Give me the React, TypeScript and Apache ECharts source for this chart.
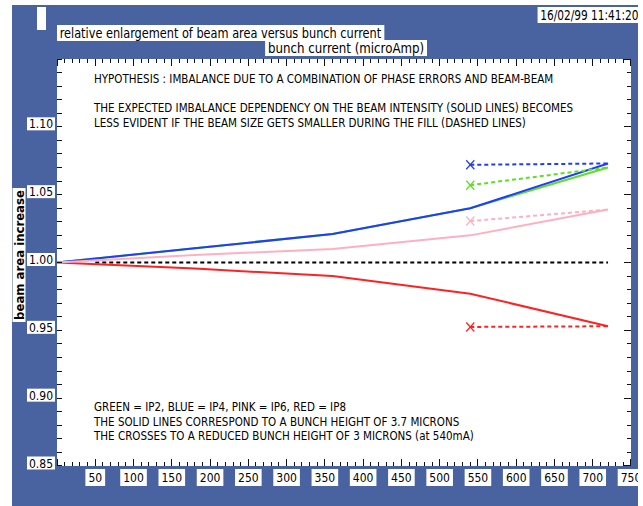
import React, { useEffect, useRef } from "react";
import * as echarts from "echarts";

// bunch current (microAmp) at which the beam area was evaluated
const currentPoints = [0, 180, 360, 540, 720];
// relative beam area increase, bunch height 3.7 microns
const ip2Solid = [1.0, 1.0105, 1.021, 1.04, 1.07];
const ip4Solid = [1.0, 1.0105, 1.021, 1.04, 1.073];
const ip6Solid = [1.0, 1.0055, 1.01, 1.02, 1.039];
const ip8Solid = [1.0, 0.9955, 0.99, 0.977, 0.953];
// reduced bunch height of 3 microns from 540mA onwards
const reducedPoints = [540, 720];
const ip2Reduced = [1.057, 1.07];
const ip4Reduced = [1.072, 1.073];
const ip6Reduced = [1.0305, 1.039];
const ip8Reduced = [0.9525, 0.953];
// unit reference
const referencePoints = [50, 720];
const referenceValues = [1.0, 1.0];

// axis ranges
const X_MIN = 0;
const X_MAX = 750;
const X_STEP = 50;
const Y_MIN = 0.85;
const Y_MAX = 1.15;
const Y_STEP = 0.05;

const FONT = '"DejaVu Sans Condensed", "Liberation Sans", sans-serif';
const BG = "#4863a0";
const COLORS = { ip2: "#5fe022", ip4: "#1f3cff", ip6: "#ffb0c0", ip8: "#ff2222" };
const CROSS = "path://M0,1L1,0L5,4L9,0L10,1L6,5L10,9L9,10L5,6L1,10L0,9L4,5Z";

// plot rectangle inside the chart container
const PLOT = { left: 45, top: 54, width: 574, height: 407 };

const zip = (xs: number[], ys: number[]) => xs.map((x, i) => [x, ys[i]]);

function solid(name: string, values: number[], color: string, z: number) {
  return {
    name,
    type: "line",
    data: zip(currentPoints, values),
    showSymbol: false,
    lineStyle: { color, width: 2 },
    z,
  };
}

function reduced(name: string, values: number[], color: string, z: number) {
  const pts = zip(reducedPoints, values);
  return {
    name,
    type: "line",
    data: [
      { value: pts[0], symbol: CROSS, symbolSize: [9, 10] },
      { value: pts[1], symbol: "none" },
    ],
    showSymbol: true,
    itemStyle: { color },
    lineStyle: { color, width: 2, type: [4, 3] },
    z,
  };
}

const labelFont = { color: "#000", fontFamily: FONT, fontSize: 12 };

function xAxis(position: string, labels: boolean) {
  return {
    type: "value",
    position,
    min: X_MIN,
    max: X_MAX,
    interval: X_STEP,
    axisLine: { show: false },
    axisTick: { show: false },
    splitLine: { show: false },
    axisLabel: labels
      ? {
          ...labelFont,
          backgroundColor: "#fff",
          showMinLabel: false,
          padding: [3, 3, 2, 3],
          margin: 3,
        }
      : { show: false },
  };
}

function yAxis(position: string, labels: boolean) {
  return {
    type: "value",
    position,
    min: Y_MIN,
    max: Y_MAX,
    interval: Y_STEP,
    axisLine: { show: false },
    axisTick: { show: false },
    splitLine: { show: false },
    axisLabel: labels
      ? {
          showMaxLabel: false,
          formatter: (v: number) => `{v|${v.toFixed(2)}}`,
          rich: {
            v: { ...labelFont, backgroundColor: "#fff", padding: [1, 2, 0, 2], lineHeight: 12 },
          },
          verticalAlign: "middle",
          padding: [0, 0, 6, 0],
          margin: 2,
        }
      : { show: false },
  };
}

function note(text: string, x: number, y: number, sx: number) {
  return {
    type: "text",
    x,
    y,
    scaleX: sx,
    z: 100,
    style: {
      text,
      fontFamily: FONT,
      fontSize: 12,
      lineHeight: 14.5,
      fill: "#000",
      verticalAlign: "top",
    },
  };
}

function boxed(text: string, x: number, y: number, sx: number, align: string) {
  return {
    type: "text",
    x,
    y,
    scaleX: sx,
    z: 100,
    style: {
      text,
      fontFamily: FONT,
      fontSize: 14,
      fill: "#000",
      backgroundColor: "#fff",
      padding: [1, 3, 1, 3],
      align,
      verticalAlign: "top",
    },
  };
}

const baseGraphic = [
  { type: "rect", shape: { x: 25, y: 2, width: 9, height: 23 }, style: { fill: "#fff" } },
  boxed("relative enlargement of beam area versus bunch current", 45, 20, 0.9, "left"),
  boxed("bunch current (microAmp)", 415, 35, 0.94, "right"),
  boxed("16/02/99 11:41:20", 629, 2, 0.84, "right"),
  {
    type: "text",
    x: 7,
    y: 250,
    rotation: Math.PI / 2,
    style: {
      text: "beam area increase",
      fontFamily: FONT,
      fontSize: 13,
      fontWeight: "bold",
      fill: "#000",
      backgroundColor: "#fff",
      padding: [0, 2, 0, 2],
      align: "center",
      verticalAlign: "middle",
    },
  },
  note("HYPOTHESIS : IMBALANCE DUE TO A COMBINATION OF PHASE ERRORS AND BEAM-BEAM", 82, 67, 0.958),
  note(
    "THE EXPECTED IMBALANCE DEPENDENCY ON THE BEAM INTENSITY (SOLID LINES) BECOMES\nLESS EVIDENT IF THE BEAM SIZE GETS SMALLER DURING THE FILL (DASHED LINES)",
    82,
    96,
    0.958
  ),
  note(
    "GREEN = IP2, BLUE = IP4, PINK = IP6, RED = IP8\nTHE SOLID LINES CORRESPOND TO A BUNCH HEIGHT OF 3.7 MICRONS\nTHE CROSSES TO A REDUCED BUNCH HEIGHT OF 3 MICRONS (at 540mA)",
    82,
    395,
    0.958
  ),
];

const option = {
  animation: false,
  backgroundColor: BG,
  grid: {
    ...PLOT,
    show: true,
    backgroundColor: "#fff",
    borderWidth: 0,
    outerBoundsMode: "none",
    containLabel: false,
  },
  xAxis: [xAxis("bottom", true), xAxis("top", false)],
  yAxis: [yAxis("left", true), yAxis("right", false)],
  series: [
    {
      name: "reference",
      type: "line",
      data: zip(referencePoints, referenceValues),
      showSymbol: false,
      lineStyle: { color: "#000", width: 2, type: [4, 3] },
      z: 1,
    },
    solid("IP2", ip2Solid, COLORS.ip2, 2),
    solid("IP4", ip4Solid, COLORS.ip4, 3),
    solid("IP8", ip8Solid, COLORS.ip8, 4),
    solid("IP6", ip6Solid, COLORS.ip6, 5),
    reduced("IP2 reduced", ip2Reduced, COLORS.ip2, 6),
    reduced("IP4 reduced", ip4Reduced, COLORS.ip4, 7),
    reduced("IP6 reduced", ip6Reduced, COLORS.ip6, 6),
    reduced("IP8 reduced", ip8Reduced, COLORS.ip8, 6),
  ],
  graphic: baseGraphic,
};

// tick marks along the four sides of the frame, every 10 mA / 0.01,
// placed through the chart's own axis scales on whole pixels
function frameTicks(chart: echarts.ECharts) {
  const toPx = (v: number[]) => chart.convertToPixel({ gridIndex: 0 }, v) as number[];
  const [xlRaw, ybRaw] = toPx([X_MIN, Y_MIN]);
  const [xrRaw, ytRaw] = toPx([X_MAX, Y_MAX]);
  const xl = Math.round(xlRaw);
  const yb = Math.round(ybRaw);
  const xr = Math.round(xrRaw);
  const yt = Math.round(ytRaw);
  const mark = (x: number, y: number, width: number, height: number) => ({
    type: "rect",
    z: 50,
    silent: true,
    shape: { x, y, width, height },
    style: { fill: "#111" },
  });
  const out: any[] = [];
  const xCount = Math.round((X_MAX - X_MIN) / 10);
  for (let i = 0; i <= xCount; i++) {
    const px = Math.min(Math.floor(toPx([X_MIN + i * 10, Y_MIN])[0]), xr - 1);
    const len = i % 5 === 0 ? 7 : 4;
    out.push(mark(px, yb - len, 1, len), mark(px, yt, 1, len));
  }
  const yCount = Math.round((Y_MAX - Y_MIN) / 0.01);
  for (let i = 0; i <= yCount; i++) {
    const py = Math.min(Math.floor(toPx([X_MIN, Y_MIN + i * 0.01])[1]), yb - 1);
    const lenR = i % 5 === 0 ? 7 : 4;
    out.push(mark(xl, py, 5, 1), mark(xr - lenR, py, lenR, 1));
  }
  return out;
}

export default function App() {
  const ref = useRef<HTMLDivElement>(null);
  useEffect(() => {
    const chart = echarts.init(ref.current!, null, { renderer: "svg" });
    chart.setOption(option as any);
    chart.setOption({ graphic: [...baseGraphic, ...frameTicks(chart)] } as any);
    return () => chart.dispose();
  }, []);
  return (
    <div
      style={{
        position: "absolute",
        left: 12,
        top: 5,
        width: 626,
        height: 501,
        overflow: "hidden",
      }}
    >
      <div ref={ref} style={{ width: 626, height: 501 }} />
    </div>
  );
}
